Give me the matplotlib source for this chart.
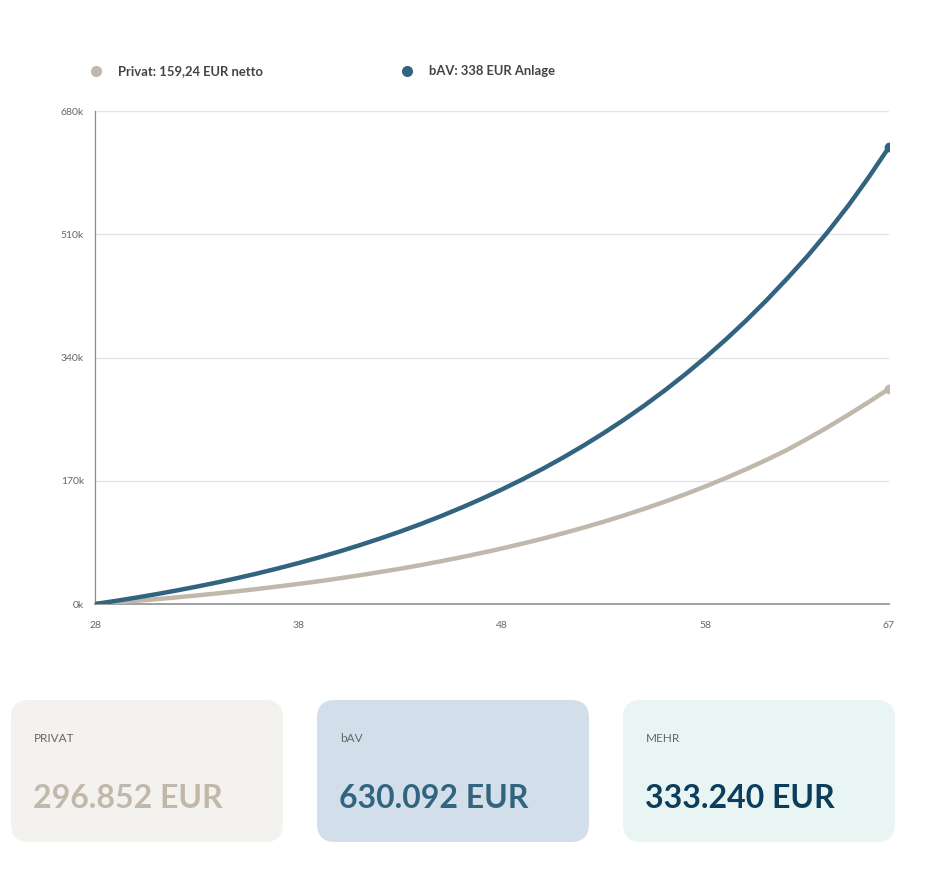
import numpy as np
import matplotlib
matplotlib.use("Agg")
import matplotlib.pyplot as plt
from matplotlib.patches import FancyBboxPatch

plt.rcParams['font.family'] = ['Lato', 'DejaVu Sans']

# Alter (Jahre)
ages = list(range(28, 68))

# Kapital in Tausend EUR
bav_k = [0, 4.2, 8.7, 13.5, 18.6, 24.0, 29.7, 35.8, 42.3, 49.2,
         56.5, 64.2, 72.4, 81.1, 90.3, 100.0, 110.3, 121.3, 132.9, 145.2,
         158.2, 172.0, 186.6, 202.1, 218.6, 236.0, 254.5, 274.1, 294.9, 317.0,
         340.4, 365.2, 391.5, 419.4, 449.0, 480.0, 513.5, 549.5, 588.5, 630.092]
privat_k = [0, 2.1, 4.3, 6.6, 9.1, 11.8, 14.6, 17.6, 20.8, 24.2,
            27.7, 31.4, 35.4, 39.6, 44.1, 48.7, 53.7, 59.0, 64.6, 70.5,
            76.7, 83.3, 90.2, 97.6, 105.4, 113.6, 122.3, 131.5, 141.2, 151.5,
            162.4, 173.9, 186.1, 199.0, 212.6, 228.0, 244.0, 261.0, 278.5, 296.852]

y_ticks = [0, 170, 340, 510, 680]
x_ticks = [28, 38, 48, 58, 67]

legend_labels = ["Privat: 159,24 EUR netto", "bAV: 338 EUR Anlage"]
card_titles = ["PRIVAT", "bAV", "MEHR"]
card_values = ["296.852 EUR", "630.092 EUR", "333.240 EUR"]

c_privat = "#c1b8ac"
c_bav = "#33647f"
c_mehr = "#0b3d5c"

fig = plt.figure(figsize=(9.4, 8.8), dpi=100)

# Hintergrund-Achse in Pixelkoordinaten fuer Legende und Karten
bg = fig.add_axes([0, 0, 1, 1])
bg.set_xlim(0, 940)
bg.set_ylim(880, 0)
bg.axis("off")

ax = fig.add_axes([95 / 940, 276 / 880, 794 / 940, 493 / 880])
ax.plot(ages, privat_k, color=c_privat, lw=3.2, solid_capstyle="round", zorder=3)
ax.plot(ages, bav_k, color=c_bav, lw=3.2, solid_capstyle="round", zorder=4)
ax.plot(ages[-1], privat_k[-1], "o", color=c_privat, ms=6, zorder=5)
ax.plot(ages[-1], bav_k[-1], "o", color=c_bav, ms=6, zorder=5)

ax.set_xlim(28, 67)
ax.set_ylim(0, 680)
ax.set_yticks(y_ticks)
ax.set_yticklabels([f"{v}k" for v in y_ticks])
ax.set_xticks(x_ticks)
ax.tick_params(axis="both", length=0, labelsize=7.5, colors="#666666")
ax.tick_params(axis="y", pad=8)
ax.tick_params(axis="x", pad=12)
ax.grid(axis="y", color="#e1e5ea", lw=1)
ax.set_axisbelow(True)
for s in ["top", "right"]:
    ax.spines[s].set_visible(False)
ax.spines["left"].set_color("#888888")
ax.spines["left"].set_linewidth(0.9)
ax.spines["bottom"].set_color("#a0a0a0")
ax.spines["bottom"].set_linewidth(1.4)
ax.patch.set_alpha(0)

# Legende
for lx, lab, col in zip([96, 407], legend_labels, [c_privat, c_bav]):
    bg.plot(lx, 71, "o", color=col, ms=7)
    bg.text(lx + 22, 71, lab, fontsize=9.4, fontweight="bold", color="#444444",
            va="center", ha="left")

# Karten
card_x = [11, 317, 623]
card_bg = ["#f3f2ef", "#d2dfea", "#e9f5f3"]
value_cols = [c_privat, c_bav, c_mehr]
for x0, title, val, fc, vc in zip(card_x, card_titles, card_values, card_bg, value_cols):
    box = FancyBboxPatch((x0, 700), 272, 142,
                         boxstyle="round,pad=0,rounding_size=18",
                         fc=fc, ec="none")
    bg.add_patch(box)
    bg.text(x0 + 23, 739, title, fontsize=8.5, color="#666666", va="center", ha="left")
    bg.text(x0 + 22, 798, val, fontsize=23, fontweight="bold", color=vc,
            va="center", ha="left")

fig.savefig("out.png", dpi=100)
